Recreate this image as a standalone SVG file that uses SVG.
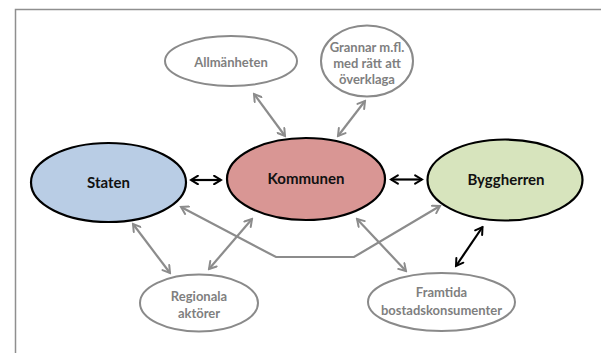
<svg xmlns="http://www.w3.org/2000/svg" width="601" height="353" viewBox="0 0 601 353">
  <style>
    .main { stroke: #000; stroke-width: 2.2; }
    .minor { fill: #fff; stroke: #8a8a8a; stroke-width: 2; }
    .lbl { font-family: Lato, "Liberation Sans", sans-serif; font-weight: bold; text-anchor: middle; }
    .lbl-main { font-size: 15px; fill: #111; }
    .lbl-minor { font-size: 13px; fill: #7f7f7f; }
    .con-grey { fill: none; stroke: #8c8c8c; stroke-width: 2.2; marker-start: url(#head-grey); marker-end: url(#head-grey); }
    .con-black { fill: none; stroke: #000; stroke-width: 2.2; marker-start: url(#head-black); marker-end: url(#head-black); }
  </style>
  <defs>
    <marker id="head-grey" viewBox="0 0 10 10" refX="8.5" refY="5" markerWidth="4.8" markerHeight="4.8" orient="auto-start-reverse" markerUnits="strokeWidth">
      <path d="M2,1 L8.5,5 L2,9" fill="none" stroke="#8c8c8c" stroke-width="1.9" stroke-linecap="round" stroke-linejoin="miter"/>
    </marker>
    <marker id="head-black" viewBox="0 0 10 10" refX="8.5" refY="5" markerWidth="4.8" markerHeight="4.8" orient="auto-start-reverse" markerUnits="strokeWidth">
      <path d="M2,1 L8.5,5 L2,9" fill="none" stroke="#000" stroke-width="1.9" stroke-linecap="round" stroke-linejoin="miter"/>
    </marker>
  </defs>

  <rect width="601" height="353" fill="#fff"/>
  <!-- frame -->
  <path d="M15.5,353 V9.5 H601" fill="none" stroke="#8f8f8f" stroke-width="1.5"/>

  <!-- connectors -->
  <g id="connectors">
    <line class="con-black" x1="191" y1="180" x2="221" y2="180"/>
    <line class="con-black" x1="391" y1="179.5" x2="422" y2="179.5"/>
    <line class="con-black" x1="482.5" y1="227" x2="456" y2="266"/>
    <line class="con-grey" x1="254" y1="94" x2="285" y2="136"/>
    <line class="con-grey" x1="365" y1="101" x2="338" y2="136"/>
    <line class="con-grey" x1="133" y1="224" x2="170" y2="273"/>
    <line class="con-grey" x1="252" y1="219" x2="209" y2="269"/>
    <line class="con-grey" x1="357" y1="219" x2="406" y2="271"/>
    <polyline class="con-grey" points="181,207 276,257 354,257 440,206"/>
  </g>

  <!-- nodes -->
  <g id="staten">
    <ellipse class="main" cx="108.5" cy="182.5" rx="77.5" ry="39.5" fill="#b9cde5"/>
    <text class="lbl lbl-main" x="108.5" y="188">Staten</text>
  </g>
  <g id="kommunen">
    <ellipse class="main" cx="306" cy="179" rx="79" ry="41" fill="#d99694"/>
    <text class="lbl lbl-main" x="306" y="184">Kommunen</text>
  </g>
  <g id="byggherren">
    <ellipse class="main" cx="505" cy="180" rx="77.5" ry="40.5" fill="#d7e4bd"/>
    <text class="lbl lbl-main" x="506" y="185">Byggherren</text>
  </g>
  <g id="allmanheten">
    <ellipse class="minor" cx="231" cy="61" rx="66" ry="25"/>
    <text class="lbl lbl-minor" x="231" y="67">Allmänheten</text>
  </g>
  <g id="grannar">
    <ellipse class="minor" cx="367" cy="61" rx="46" ry="35.5"/>
    <text class="lbl lbl-minor" x="367" y="51.5">Grannar m.fl.</text>
    <text class="lbl lbl-minor" x="367" y="67.5">med rätt att</text>
    <text class="lbl lbl-minor" x="367" y="83.5">överklaga</text>
  </g>
  <g id="regionala">
    <ellipse class="minor" cx="199" cy="303" rx="59" ry="28.5"/>
    <text class="lbl lbl-minor" x="199" y="300.5">Regionala</text>
    <text class="lbl lbl-minor" x="199" y="317.5">aktörer</text>
  </g>
  <g id="framtida">
    <ellipse class="minor" cx="441.5" cy="302" rx="73.5" ry="29"/>
    <text class="lbl lbl-minor" x="441.5" y="297">Framtida</text>
    <text class="lbl lbl-minor" x="441.5" y="315">bostadskonsumenter</text>
  </g>
</svg>
